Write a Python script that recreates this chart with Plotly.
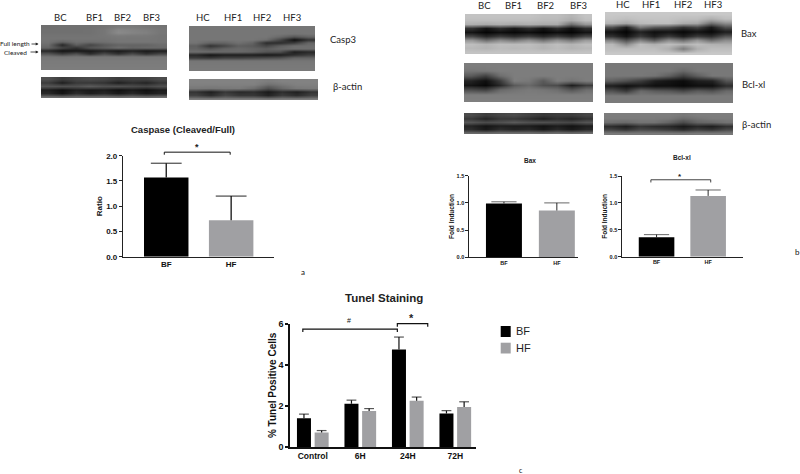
import plotly.graph_objects as go

W, H = 800, 474
BLACK, GRAY = "#000000", "#a0a0a3"
FONT = "Liberation Sans"
BLOT_FONT = "Lato"

# ---------- bar data ----------
groups = ["BF", "HF"]
caspase_vals = [1.57, 0.72]
caspase_errs = [0.28, 0.48]
bax_vals = [0.99, 0.86]
bax_errs = [0.03, 0.14]
bcl_vals = [0.36, 1.13]
bcl_errs = [0.05, 0.11]
tunel_cats = ["Control", "6H", "24H", "72H"]
tunel_bf = [1.40, 2.10, 4.75, 1.63]
tunel_bf_err = [0.20, 0.18, 0.60, 0.14]
tunel_hf = [0.70, 1.75, 2.25, 1.95]
tunel_hf_err = [0.10, 0.12, 0.18, 0.25]

# ---------- blot band densities (grey level, rows top to bottom, lane/gap columns) ----------
casp3_left = [
    [110,112,112,112,115,122,122,118,115],
    [112,112,112,113,118,135,130,125,118],
    [112,112,112,113,118,138,132,128,118],
    [115,115,115,115,118,122,120,120,116],
    [116,116,116,116,116,118,118,118,116],
    [115,100,112,110,112,118,118,118,116],
    [108,40,95,70,90,100,100,100,108],
    [100,70,50,85,95,110,100,105,105],
    [40,20,25,25,35,25,35,25,30],
    [85,60,80,45,75,50,75,50,70],
    [118,116,118,118,118,118,118,118,118],
    [122,122,122,122,122,122,122,122,122],
    [123,123,123,123,123,123,123,123,123],
    [124,124,124,124,124,124,124,124,124],
    [125,125,125,125,125,125,125,125,125],
]
casp3_right = [
    [118,118,118,118,118,118,118,118,118],
    [118,118,118,118,118,118,118,118,118],
    [118,118,118,118,118,118,118,116,118],
    [118,118,118,118,118,118,105,85,100],
    [118,118,118,118,118,110,70,15,50],
    [115,100,100,112,100,45,45,60,100],
    [95,50,70,95,90,70,95,110,110],
    [100,85,100,105,100,95,105,110,110],
    [110,108,105,105,100,85,80,30,40],
    [40,22,30,30,30,25,30,45,60],
    [60,55,65,65,70,75,80,100,100],
    [118,118,118,118,118,118,118,118,118],
    [120,120,120,120,120,120,120,120,120],
    [121,121,121,121,121,121,121,121,121],
    [122,122,122,122,122,122,122,122,122],
]
actin1_left = [
    [80,60,70,75,70,60,65,65,75],
    [60,30,55,55,50,30,45,35,55],
    [85,80,80,90,80,80,75,70,80],
    [30,15,30,25,28,15,25,15,28],
    [40,20,45,30,40,25,40,25,35],
    [110,105,110,110,110,105,110,105,110],
]
actin1_right = [
    [130,130,130,130,130,125,130,130,130],
    [128,128,128,128,128,110,120,128,128],
    [120,118,120,122,110,80,105,120,122],
    [50,30,55,40,45,25,45,30,50],
    [65,45,70,55,55,35,60,45,65],
    [125,125,125,125,125,120,125,125,125],
]
bax_left = [
    [195,195,195,195,195,190,190,180,195],
    [190,190,190,190,190,185,185,170,190],
    [175,170,175,170,175,170,170,110,150],
    [50,20,45,25,45,20,45,15,45],
    [20,5,15,8,15,5,15,5,20],
    [70,40,60,45,60,40,60,40,70],
    [150,110,140,120,145,115,145,120,155],
    [190,180,190,188,190,180,190,180,190],
    [185,180,188,185,188,180,188,180,185],
    [195,195,195,195,195,195,195,195,195],
]
bax_right = [
    [200,200,200,200,200,200,200,200,200],
    [195,190,195,195,195,190,190,175,190],
    [180,165,185,190,190,170,165,110,140],
    [80,30,120,90,80,50,70,25,80],
    [20,5,35,15,20,8,20,8,30],
    [50,20,60,30,60,30,60,45,85],
    [130,80,130,90,140,110,150,110,140],
    [185,140,190,175,190,178,190,178,175],
    [190,190,190,190,175,125,175,190,190],
    [200,200,200,200,200,200,200,200,200],
]
bcl_left = [
    [125,125,125,125,125,125,125,125,125],
    [118,120,125,125,125,125,125,125,125],
    [90,65,110,125,125,125,125,125,125],
    [35,15,60,125,120,90,125,115,125],
    [20,8,40,90,105,80,75,30,60],
    [75,65,105,115,122,118,110,85,110],
    [125,125,125,125,125,125,125,125,125],
    [127,127,127,127,127,127,127,127,127],
]
bcl_right = [
    [120,120,120,120,120,120,120,120,120],
    [120,120,120,120,120,105,120,120,120],
    [120,120,120,115,95,65,95,120,120],
    [95,80,60,30,20,12,30,35,85],
    [30,15,25,15,15,8,15,15,45],
    [80,55,105,90,85,70,90,80,105],
    [122,122,122,122,122,122,122,122,122],
    [122,122,122,122,122,122,122,122,122],
]
actin2_left = [
    [75,60,70,75,65,55,60,60,70],
    [55,35,55,55,45,30,45,35,50],
    [85,75,80,90,80,80,75,70,85],
    [35,20,30,28,28,18,28,18,30],
    [45,25,45,35,40,25,40,25,40],
    [105,105,110,110,110,105,110,105,110],
]
actin2_right = [
    [125,125,125,125,125,120,125,125,125],
    [122,122,122,122,120,105,115,122,122],
    [110,105,115,115,100,75,100,105,115],
    [45,30,55,45,40,25,40,30,50],
    [70,55,75,70,60,45,65,55,75],
    [120,120,120,120,120,118,120,120,120],
]

blots = [
    (casp3_left, 41, 167, 25, 70),
    (casp3_right, 189, 315, 26, 71),
    (actin1_left, 41, 167, 77, 98),
    (actin1_right, 189, 318, 79, 100),
    (bax_left, 465, 592, 14, 54),
    (bax_right, 605, 732, 12, 55),
    (bcl_left, 464, 593, 63, 102),
    (bcl_right, 605, 733, 63, 103),
    (actin2_left, 464, 593, 113, 134),
    (actin2_right, 604, 733, 113, 135),
]


def xd(a, b):
    return [a / W, b / W]


def yd(top, bottom):
    return [1 - bottom / H, 1 - top / H]


fig = go.Figure()
layout = {}
n = 0
for z, x0, x1, y0, y1 in blots:
    n += 1
    xa, ya = ("x%d" % n, "y%d" % n)
    fig.add_trace(go.Heatmap(
        z=z, xaxis=xa, yaxis=ya, zmin=0, zmax=255, zsmooth="best", showscale=False,
        colorscale=[[0, "#000000"], [1, "#ffffff"]], hoverinfo="skip",
    ))
    layout["xaxis%d" % n] = dict(domain=xd(x0, x1), range=[-0.5, len(z[0]) - 0.5], visible=False,
                                 anchor=ya, fixedrange=True)
    layout["yaxis%d" % n] = dict(domain=yd(y0, y1), range=[len(z) - 0.5, -0.5], visible=False,
                                 anchor=xa, fixedrange=True)


def bold(size):
    return dict(family=FONT, size=size, color="#111111", weight=700)


def whiskers(xs, vals, errs, xa, ya, hat, lw):
    """Upward-only error bars: a stem from the bar top with a hat at its end."""
    wx, wy, sizes = [], [], []
    for x, v, e in zip(xs, vals, errs):
        wx += [x, x, None]
        wy += [v, v + e, None]
        sizes += [0, hat, 0]
    fig.add_trace(go.Scatter(
        x=wx, y=wy, xaxis=xa, yaxis=ya, mode="lines+markers", showlegend=False, hoverinfo="skip",
        line=dict(color="#111111", width=lw),
        marker=dict(symbol="line-ew", size=sizes, color="#111111", line=dict(color="#111111", width=lw)),
    ))


def add_bars(idx, vals, errs, px, py, xrange, yrange, ticks, tick_size, title_size, width, title_text, standoff, lw, hat):
    xa, ya = "x%d" % idx, "y%d" % idx
    fig.add_trace(go.Bar(
        x=[0, 1], y=vals, xaxis=xa, yaxis=ya, width=width, showlegend=False,
        marker=dict(color=[BLACK, GRAY], line=dict(width=0)),
    ))
    whiskers([0, 1], vals, errs, xa, ya, hat, lw)
    layout["xaxis%d" % idx] = dict(
        domain=xd(*px), range=xrange, anchor=ya, tickvals=[0, 1], ticktext=groups, ticks="",
        showline=True, linecolor="#222222", linewidth=lw, showgrid=False, zeroline=False,
        tickfont=bold(tick_size), fixedrange=True)
    layout["yaxis%d" % idx] = dict(
        domain=yd(*py), range=yrange, anchor=xa, tickvals=ticks, tickformat=".1f", ticks="outside",
        ticklen=3, tickwidth=lw, tickcolor="#222222", showline=True, linecolor="#222222", linewidth=lw,
        showgrid=False, zeroline=False, tickfont=bold(tick_size), fixedrange=True,
        title=dict(text=title_text, font=bold(title_size), standoff=standoff))


add_bars(11, caspase_vals, caspase_errs, (123, 274), (155.7, 256.7), [-0.666, 1.66], [0, 2],
         [0, 0.5, 1, 1.5, 2], 8, 8, 0.685, "Ratio", 2, 1.3, 22)
add_bars(12, bax_vals, bax_errs, (469.3, 578), (175.7, 257.3), [-0.655, 1.40], [0, 1.5],
         [0, 0.5, 1, 1.5], 5.5, 6.5, 0.68, "Fold Induction", 1, 0.9, 18)
add_bars(13, bcl_vals, bcl_errs, (622.3, 742.7), (176, 256.7), [-0.664, 1.67], [0, 1.5],
         [0, 0.5, 1, 1.5], 5.5, 6.5, 0.69, "Fold Induction", 1, 0.9, 18)

# Tunel staining, grouped bars
positions = list(range(len(tunel_cats)))
bar_w = 0.295
for name, vals, errs, col, off, shift in [("BF", tunel_bf, tunel_bf_err, BLACK, -0.3335, -0.186),
                                          ("HF", tunel_hf, tunel_hf_err, GRAY, 0.0385, 0.186)]:
    fig.add_trace(go.Bar(
        name=name, x=positions, y=vals, xaxis="x14", yaxis="y14", width=bar_w, offset=off,
        marker=dict(color=col, line=dict(width=0)), showlegend=False,
    ))
    whiskers([p + shift for p in positions], vals, errs, "x14", "y14", 7, 1.2)
layout["xaxis14"] = dict(
    domain=xd(290, 476), range=[-0.48, 3.436], anchor="y14", tickvals=positions, ticktext=tunel_cats,
    ticks="", showline=True, linecolor="#111111", linewidth=1.5, showgrid=False, zeroline=False,
    tickfont=bold(8.5), fixedrange=True)
layout["yaxis14"] = dict(
    domain=yd(323.7, 447), range=[0, 6], anchor="x14", tickvals=[0, 2, 4, 6], ticks="outside", ticklen=3,
    tickwidth=1.5, tickcolor="#111111", showline=True, linecolor="#111111", linewidth=1.5, showgrid=False,
    zeroline=False, tickfont=bold(9), fixedrange=True,
    title=dict(text="% Tunel Positive Cells", font=bold(10), standoff=0))

# hidden helper axes: same scale as the Caspase and Tunel panels, with head room for their brackets
layout["xaxis15"] = dict(domain=xd(123, 274), range=[-0.666, 1.66], visible=False, anchor="y15", fixedrange=True)
layout["yaxis15"] = dict(domain=yd(145.6, 256.7), range=[0, 2.2], visible=False, anchor="x15", fixedrange=True)
layout["xaxis16"] = dict(domain=xd(290, 476), range=[-0.48, 3.436], visible=False, anchor="y16", fixedrange=True)
layout["yaxis16"] = dict(domain=yd(303.15, 447), range=[0, 7], visible=False, anchor="x16", fixedrange=True)

# significance brackets
brackets = [
    ("x15", "y15", -0.03, 0.985, 2.07, 2.02, 1.0),
    ("x13", "y13", -0.11, 1.05, 1.43, 1.38, 0.8),
    ("x16", "y16", -0.21, 1.78, 5.74, 5.6, 1.2),
    ("x16", "y16", 1.78, 2.42, 6.0, 5.85, 1.2),
]
for xa, ya, a, b, top, tip, lw in brackets:
    fig.add_trace(go.Scatter(x=[a, a, b, b], y=[tip, top, top, tip], xaxis=xa, yaxis=ya, mode="lines",
                             line=dict(color="#111111", width=lw), cliponaxis=False, showlegend=False,
                             hoverinfo="skip"))

ann = []


def label(text, x, y, size, family=FONT, weight=400, color="#222222", anchor="center"):
    ann.append(dict(text=text, x=x / W, y=1 - y / H, xref="paper", yref="paper", showarrow=False,
                    xanchor=anchor, yanchor="middle",
                    font=dict(family=family, size=size, color=color, weight=weight)))


for t, x in [("BC", 60), ("BF1", 94), ("BF2", 122), ("BF3", 151),
             ("HC", 203), ("HF1", 233), ("HF2", 262), ("HF3", 292)]:
    label(t, x, 18, 9.5, BLOT_FONT)
for t, x, y in [("BC", 485, 6), ("BF1", 513, 6), ("BF2", 545, 6), ("BF3", 578, 6),
                ("HC", 623, 4), ("HF1", 651, 4), ("HF2", 683, 4), ("HF3", 713, 4)]:
    label(t, x, y, 9.5, BLOT_FONT)
for t, x, y in [("Casp3", 343, 39), ("β-actin", 347, 87), ("Bax", 749, 33), ("Bcl-xl", 753, 84), ("β-actin", 756, 124)]:
    label(t, x, y, 9.5, BLOT_FONT)
label("Full length", 15, 44, 6.5, BLOT_FONT)
label("Cleaved", 15, 52, 6.5, BLOT_FONT)
for tail, tip, y in [(30, 38.5, 44), (29, 38.5, 52)]:
    ann.append(dict(text="", x=tip / W, y=1 - y / H, ax=tail - tip, ay=0, xref="paper", yref="paper",
                    showarrow=True, arrowhead=2, arrowsize=0.7, arrowwidth=0.8, arrowcolor="#222222"))
label("Caspase (Cleaved/Full)", 183, 129, 9.5, weight=700)
label("Bax", 530, 160, 6.5, weight=700)
label("Bcl-xl", 682, 158, 6.5, weight=700)
label("Tunel Staining", 384, 298, 11.5, weight=700)
label("*", 197, 147, 9, weight=700)
label("*", 680, 176, 8, weight=700)
label("#", 349, 320, 7, weight=400, color="#111111")
label("*", 411, 318, 11, weight=700)
label("a", 303, 272, 8, BLOT_FONT, color="#111111")
label("b", 797, 252, 8, BLOT_FONT, color="#111111")
label("c", 521, 470, 7, BLOT_FONT, color="#111111")
label("BF", 514, 331, 11, anchor="left")
label("HF", 514, 348, 11, anchor="left")

shapes = [
    dict(type="rect", xref="paper", yref="paper", x0=500.7 / W, x1=510.7 / W, y0=1 - 337 / H, y1=1 - 326 / H,
         fillcolor=BLACK, line=dict(width=0)),
    dict(type="rect", xref="paper", yref="paper", x0=500.7 / W, x1=510.7 / W, y0=1 - 353.5 / H, y1=1 - 342.7 / H,
         fillcolor=GRAY, line=dict(width=0)),
]

fig.update_layout(width=W, height=H, margin=dict(l=0, r=0, t=0, b=0, autoexpand=False), paper_bgcolor="white",
                  plot_bgcolor="rgba(0,0,0,0)", barmode="overlay", showlegend=False, annotations=ann, shapes=shapes,
                  font=dict(family=FONT), **layout)
fig.write_html("out.html", config={"displayModeBar": False},
               post_script="document.body.style.margin='0';document.body.style.overflow='hidden';")
